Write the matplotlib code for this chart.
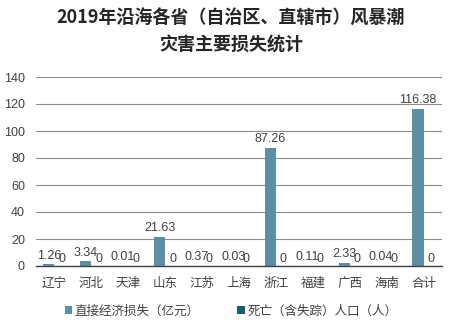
import matplotlib
matplotlib.use("Agg")
import matplotlib.pyplot as plt
import numpy as np

plt.rcParams["font.family"] = ["Liberation Sans", "Noto Sans CJK SC", "DejaVu Sans"]

provinces = ["辽宁", "河北", "天津", "山东", "江苏", "上海", "浙江", "福建", "广西", "海南", "合计"]
loss = [1.26, 3.34, 0.01, 21.63, 0.37, 0.03, 87.26, 0.11, 2.33, 0.04, 116.38]
deaths = [0, 0, 0, 0, 0, 0, 0, 0, 0, 0, 0]
loss_labels = ["1.26", "3.34", "0.01", "21.63", "0.37", "0.03", "87.26", "0.11", "2.33", "0.04", "116.38"]

_BAR1 = "#5e8ea6"
_BAR2 = "#1d5a70"
_TEXT = "#404040"
_GRID = "#8c8c8c"
_CJK = ["Noto Sans CJK SC", "DejaVu Sans"]

fig = plt.figure(figsize=(4.62, 3.30), dpi=100)
ax = fig.add_axes([36 / 462, 1 - 266 / 330, 406 / 462, 189 / 330])

x = np.arange(len(provinces))
w = 0.3
b1 = ax.bar(x - w / 2, loss, width=w, color=_BAR1, zorder=3, label="直接经济损失（亿元）")
b2 = ax.bar(x + w / 2, deaths, width=w, color=_BAR2, zorder=3, label="死亡（含失踪）人口（人）")

for xi, v, lab in zip(x, loss, loss_labels):
    ax.text(xi - w / 2, v + 2.0, lab, ha="center", va="bottom", fontsize=9, color=_TEXT)
for xi, v in zip(x, deaths):
    ax.text(xi + w / 2 + 0.05, v + 1.0, f"{v:g}", ha="center", va="bottom", fontsize=9, color=_TEXT)

ax.set_xlim(-0.5, len(provinces) - 0.5)
ax.set_ylim(0, 140)
ax.set_yticks(range(0, 141, 20))
ax.set_xticks(x)
ax.set_xticklabels(provinces, family=_CJK)
ax.tick_params(axis="both", length=0, labelsize=9, colors=_TEXT)
ax.tick_params(axis="x", pad=8)
ax.tick_params(axis="y", pad=8)
ax.grid(axis="y", color=_GRID, lw=0.8, zorder=0)
for s in ["top", "right", "left"]:
    ax.spines[s].set_visible(False)
ax.spines["bottom"].set_color("#404040")
ax.spines["bottom"].set_linewidth(1.0)
ax.spines["bottom"].set_zorder(4)

fig.text(0.5, 1 - 18 / 330, "2019年沿海各省（自治区、直辖市）风暴潮", ha="center", va="center",
         fontsize=13, fontweight="bold", color="#262626", family=_CJK)
fig.text(0.5, 1 - 45 / 330, "灾害主要损失统计", ha="center", va="center",
         fontsize=13, fontweight="bold", color="#262626", family=_CJK)

leg = fig.legend(handles=[b1, b2], loc="center", bbox_to_anchor=(0.5, 1 - 311 / 330), ncol=2,
                 frameon=False, prop={"family": _CJK, "size": 9}, labelcolor=_TEXT,
                 handlelength=0.6, handleheight=0.6, handletextpad=0.2, columnspacing=3.0)

fig.savefig("out.png", dpi=100)
